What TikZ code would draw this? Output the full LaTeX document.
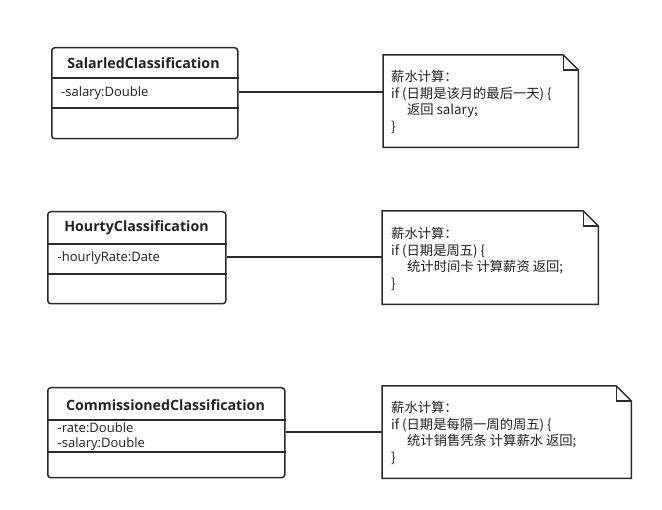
\documentclass[tikz,border=0pt]{standalone}
\usepackage{fontspec}
\setmainfont{Open Sans}
\newfontfamily\cjk{Noto Sans CJK SC}
\definecolor{lc}{HTML}{2B2B2B}
\definecolor{tc}{HTML}{222222}
\tikzset{
  ln/.style={draw=lc, line width=1.5pt},
  cls/.style={ln, rounded corners=3pt, anchor=north west, inner sep=0pt},
  ctitle/.style={font=\fontsize{14.2}{16}\selectfont\bfseries, text=tc, inner sep=0pt},
  cattr/.style={font=\fontsize{13}{15}\selectfont, text=tc, anchor=west, align=left, inner sep=0pt},
  notebox/.style={anchor=north west, inner sep=0pt},
  notetext/.style={font=\cjk\fontsize{13.3}{16.8}\selectfont, text=tc, anchor=west, align=left, inner sep=0pt},
}
\newcommand{\notepath}[1]{%
  \draw[ln, line join=miter] (#1.north west) -- ([xshift=-15pt]#1.north east) -- ([yshift=-15pt]#1.north east) -- (#1.south east) -- (#1.south west) -- cycle;
  \draw[ln] ([xshift=-15pt]#1.north east) -- ([xshift=-15pt,yshift=-15pt]#1.north east) -- ([yshift=-15pt]#1.north east);}
\begin{document}
\begin{tikzpicture}[x=1pt,y=-1pt]
\useasboundingbox[fill=white] (0,0) rectangle (662,510);

% ---- class 1
\node[cls, minimum width=186pt, minimum height=91pt] (c1) at (51,47) {};
\draw[ln] (c1.west |- 0,78) -- (c1.east |- 0,78);
\draw[ln] (c1.west |- 0,108) -- (c1.east |- 0,108);
\node[ctitle] (t1) at (143.5,63) {SalarledClassification};
\node[cattr] (a1) at (61,93) {-salary:Double};

% ---- note 1
\node[notebox, minimum width=195pt, minimum height=92pt] (n1) at (383,55) {};
\notepath{n1}
\node[notetext] (x1) at (391,102) {薪水计算：\\if (日期是该月的最后一天) \{\\\hspace*{1.2em}返回 salary;\\\}};
\draw[ln] (c1.east |- 0,92) -- (n1.west |- 0,92);

% ---- class 2
\node[cls, minimum width=178pt, minimum height=92pt] (c2) at (47,211) {};
\draw[ln] (c2.west |- 0,244) -- (c2.east |- 0,244);
\draw[ln] (c2.west |- 0,274) -- (c2.east |- 0,274);
\node[ctitle] (t2) at (136.5,228) {HourtyClassification};
\node[cattr] (a2) at (57.5,258) {-hourlyRate:Date};

% ---- note 2
\node[notebox, minimum width=216pt, minimum height=93pt] (n2) at (382,211) {};
\notepath{n2}
\node[notetext] (x2) at (391,259) {薪水计算：\\if (日期是周五) \{\\\hspace*{1.2em}统计时间卡 计算薪资 返回;\\\}};
\draw[ln] (c2.east |- 0,257) -- (n2.west |- 0,257);

% ---- class 3
\node[cls, minimum width=237pt, minimum height=90pt] (c3) at (47,387) {};
\draw[ln] (c3.west |- 0,420) -- (c3.east |- 0,420);
\draw[ln] (c3.west |- 0,452) -- (c3.east |- 0,452);
\node[ctitle] (t3) at (165.5,405) {CommissionedClassification};
\node[cattr] (a3) at (57.5,436.5) {-rate:Double\\-salary:Double};

% ---- note 3
\node[notebox, minimum width=249pt, minimum height=92pt] (n3) at (382,386) {};
\notepath{n3}
\node[notetext] (x3) at (391,433) {薪水计算：\\if (日期是每隔一周的周五) \{\\\hspace*{1.2em}统计销售凭条 计算薪水 返回;\\\}};
\draw[ln] (c3.east |- 0,432) -- (n3.west |- 0,432);
\end{tikzpicture}
\end{document}
